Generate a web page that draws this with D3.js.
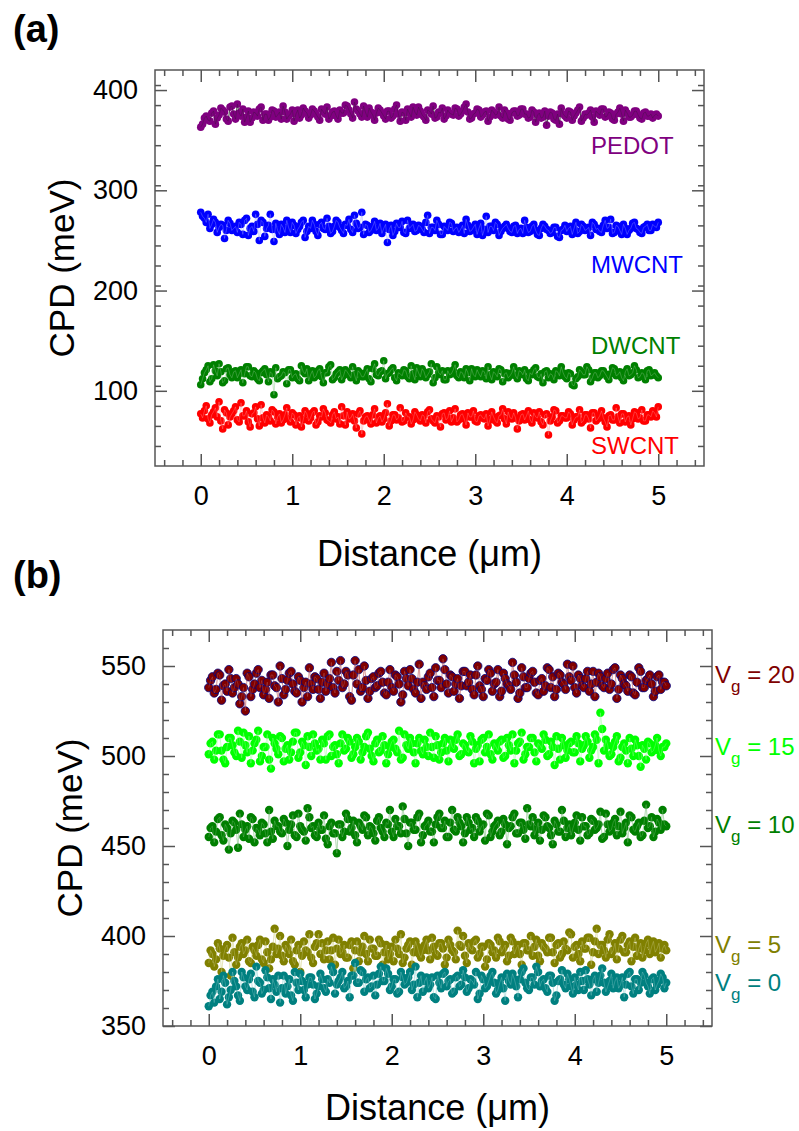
<!DOCTYPE html>
<html>
<head>
<meta charset="utf-8">
<script src="https://cdn.jsdelivr.net/npm/d3@7"></script>
<style>
  html, body { margin: 0; padding: 0; background: #fff; }
  svg { display: block; }
  text { font-family: "Liberation Sans", Arial, sans-serif; }
</style>
</head>
<body>
<svg id="chart" width="799" height="1131"></svg>
<script>
// ---------------- DATA ----------------
// Each series is sampled from 0 to 5 µm. "Even" samples and the "odd"
// samples between them are listed separately and interleaved below.
const distanceStart = 0, distanceEnd = 5;

// Panel (a)
const seriesA = ["PEDOT", "MWCNT", "DWCNT", "SWCNT"];
const colorsA = ["#800080", "#0000FF", "#008000", "#FF0000"];

const pedotEven = [363,372,370,377,366,375,380,371,383,376,
386,374,368,379,372,377,381,370,376,373,
379,375,371,378,374,380,376,372,382,377,
375,379,373,381,376,371,378,374,380,377,
384,376,388,379,373,378,382,375,377,380,
374,379,372,381,376,378,370,377,383,375,
379,373,380,376,372,378,382,374,377,375,
381,376,383,378,372,377,380,375,379,373,
378,376,374,380,371,377,379,375,381,376,
373,378,375,372,379,374,377,370,366,376,
372,378,374,380,369,376,377,373,379,375,
381,374,377,370,378,376,380,373,375,379,
372,377,374,376,375,374];
const pedotOdd = [366,374,369,379,372,382,378,369,384,371,
377,381,373,368,378,374,383,376,370,380,
373,378,384,371,376,369,380,375,379,372,
381,376,370,378,383,374,379,371,377,385,
380,372,381,376,384,373,378,370,382,377,
371,379,374,385,369,377,381,373,378,383,
375,370,379,384,373,377,371,380,376,382,
374,379,386,371,376,381,373,378,369,380,
375,383,372,377,370,379,374,381,376,372,
380,368,377,373,365,378,371,376,382,374,
379,370,377,383,372,375,380,368,377,381,
373,378,371,376,382,369,377,373,379,375,
371,378,374,372,376];

const mwcntEven = [278,272,276,266,268,263,265,260,267,262,
258,266,270,255,264,276,250,268,262,276,
249,260,266,258,263,268,257,264,270,259,
262,266,255,268,261,264,259,270,263,257,
265,261,275,262,278,266,258,264,260,267,
262,248,265,259,263,269,257,262,266,260,
264,258,275,263,260,266,256,262,268,259,
263,261,257,265,260,266,262,255,274,264,
260,266,259,264,262,258,265,261,257,263,
259,266,256,262,264,260,258,263,253,261,
259,264,262,257,266,260,263,268,261,259,
265,262,271,258,264,256,262,260,267,262,
258,263,266,260,264,268];
const mwcntOdd = [274,268,262,271,258,266,252,270,260,264,
268,256,272,262,259,266,270,254,265,261,
267,256,263,270,258,265,261,268,253,264,
270,259,266,262,272,257,264,268,260,266,
271,258,267,263,256,265,260,269,262,257,
266,261,255,267,263,258,270,264,259,265,
261,268,257,263,270,256,264,260,267,262,
258,265,271,259,263,256,267,261,258,264,
268,255,262,266,259,264,257,262,270,258,
264,260,255,266,261,257,263,254,260,265,
262,256,268,259,264,261,255,266,262,258,
270,263,257,265,260,266,256,262,268,261,
257,264,260,266,263];

const dwcntEven = [106,118,125,112,120,127,108,122,116,119,
113,121,117,124,114,118,110,120,116,119,
96,112,115,118,121,113,117,110,119,122,
116,113,120,114,118,124,111,117,121,115,
119,113,116,120,114,118,112,122,116,119,
130,117,121,113,118,115,120,112,117,123,
114,119,116,127,113,118,120,111,116,121,
115,119,113,118,122,114,117,120,112,116,
119,114,121,117,113,118,115,120,116,112,
118,121,114,117,119,113,116,120,115,118,
112,117,105,114,119,116,121,113,118,115,
120,114,117,122,116,113,119,115,118,121,
114,117,120,115,118,113];
const dwcntOdd = [112,121,109,126,115,119,110,123,113,120,
117,108,124,115,120,112,118,122,109,117,
123,114,119,107,121,116,112,125,117,110,
120,115,122,108,118,126,113,119,111,121,
116,124,110,118,114,122,109,127,115,120,
112,118,123,110,117,121,114,125,111,118,
122,113,119,108,124,116,111,120,117,126,
113,118,122,110,116,121,114,119,124,111,
117,122,109,118,115,124,112,119,121,110,
116,123,113,108,120,117,111,119,124,114,
118,106,112,121,116,124,109,118,113,120,
117,111,123,115,119,110,122,116,125,113,
118,111,121,116,115];

const swcntEven = [77,80,72,76,83,89,62,78,74,80,
71,88,75,69,77,84,65,73,76,70,
79,74,68,76,72,78,66,75,71,77,
73,80,69,74,78,70,76,72,67,75,
79,73,70,77,57,74,71,76,68,75,
72,87,70,76,73,69,78,74,71,76,
70,75,79,72,68,74,77,71,80,73,
69,76,72,78,74,70,75,73,77,71,
74,68,76,72,79,72,73,70,77,75,
71,78,73,69,76,56,74,80,70,75,
73,77,71,74,68,76,72,78,70,75,
73,64,76,71,74,77,69,75,72,78,
73,70,76,74,78,84];
const swcntOdd = [73,85,68,79,74,70,81,66,77,84,
69,75,80,64,78,72,86,68,74,81,
67,77,71,83,69,76,73,64,80,70,
78,66,75,82,71,68,79,74,84,66,
72,77,63,80,70,75,67,82,73,69,
78,65,76,71,83,70,74,67,79,72,
76,68,81,70,75,64,78,73,69,82,
71,77,66,74,80,69,76,72,65,79,
70,75,82,67,73,78,62,76,71,80,
68,74,79,66,77,70,81,68,75,73,
79,66,74,81,70,76,63,78,72,80,
69,75,71,83,68,77,74,66,79,72,
81,70,76,80,74];

// Panel (b)
const seriesB = ["20", "15", "10", "5", "0"];
const colorsB = ["#800000", "#00FF00", "#007F00", "#808000", "#008080"];

const vg20Even = [538,544,537,545,539,536,543,538,540,533,
525,544,537,546,538,534,541,545,539,530,
543,537,546,540,535,542,538,533,540,544,
537,541,536,543,538,547,553,540,545,531,
553,548,538,542,536,544,539,547,535,541,
538,545,540,534,543,548,537,541,532,539,
544,538,549,542,554,540,545,536,543,539,
547,541,537,545,539,533,542,546,540,548,
536,543,539,552,541,535,544,538,546,541,
534,543,539,548,544,537,545,540,551,542,
538,545,539,543,536,547,541,544,538,546,
540,549,537,543,539,545,535,541,547,538,
543,540,536,545,541,539];
const vg20Odd = [542,535,546,531,540,548,535,543,529,538,
546,533,540,548,542,537,532,545,538,550,
534,542,547,536,544,530,541,549,537,543,
532,546,540,552,535,542,538,547,533,545,
540,536,550,532,543,538,546,541,534,548,
536,544,530,547,539,543,535,551,541,537,
546,533,542,538,548,535,544,540,532,547,
539,545,534,550,537,543,548,536,541,533,
546,540,537,545,532,549,538,543,547,535,
542,536,549,538,533,546,541,537,544,550,
535,543,538,547,540,533,546,539,543,537,
548,532,545,540,536,544,534,549,538,542,
545,533,544,537,541];

const vg15Even = [501,508,503,512,498,505,510,502,514,499,
506,511,503,509,497,505,512,493,507,501,
510,504,498,508,513,502,506,511,500,507,
504,509,498,512,505,501,507,503,510,499,
505,508,502,511,504,497,509,503,506,501,
508,504,514,499,506,510,502,507,503,509,
500,505,511,498,507,503,509,504,512,501,
506,502,508,504,497,510,505,501,507,503,
509,500,506,512,503,508,498,505,510,502,
507,504,509,501,505,511,498,506,503,508,
502,507,504,511,499,505,509,524,503,506,
501,508,497,505,503,510,500,506,494,504,
508,502,506,503,505,507];
const vg15Odd = [507,498,512,503,496,510,506,500,508,513,
502,496,507,514,500,505,498,510,504,511,
497,506,502,513,499,508,495,505,512,503,
498,507,511,500,506,496,512,504,508,501,
510,498,505,513,500,507,502,511,496,505,
509,502,498,512,504,507,496,510,501,505,
513,499,506,502,510,497,505,509,500,507,
503,511,496,506,509,502,512,498,505,508,
499,510,503,496,507,513,501,505,510,497,
506,512,500,508,495,504,510,499,507,502,
511,497,506,508,503,512,496,515,509,500,
505,511,499,507,496,504,509,500,506,498,
507,503,510,500,505];

const vg10Even = [455,461,458,466,453,460,457,463,449,462,
459,454,465,460,456,462,452,458,464,461,
457,463,459,467,455,461,458,471,460,456,
463,459,454,461,457,446,462,458,465,460,
456,463,459,466,461,457,464,460,455,462,
458,465,461,472,457,463,459,466,452,461,
464,458,462,468,460,455,463,459,466,461,
457,463,460,466,458,462,468,455,461,464,
458,462,460,466,457,463,459,471,461,456,
463,459,466,460,451,462,458,464,460,456,
463,459,466,461,457,464,460,469,455,462,
459,465,461,457,463,467,459,461,455,464,
460,466,458,463,470,461];
const vg10Odd = [460,452,465,456,462,448,464,459,468,455,
461,466,452,459,463,457,470,454,461,458,
465,450,462,456,468,459,453,466,461,455,
459,467,451,463,457,462,455,468,458,464,
452,461,467,456,460,453,466,458,463,470,
455,461,457,465,450,463,459,468,456,462,
458,452,466,460,464,455,470,458,463,452,
466,459,455,464,461,453,467,458,462,456,
465,451,461,468,457,463,454,462,466,459,
453,467,461,456,464,458,470,455,462,460,
467,453,461,456,465,459,462,454,468,458,
463,456,469,460,452,466,458,463,456,473,
461,455,465,459,462];

const vg5Even = [385,390,387,393,389,395,378,391,388,396,
392,386,394,389,398,385,391,387,404,393,
389,395,390,386,392,380,397,391,388,394,
401,396,392,387,399,393,390,395,388,397,
392,386,394,390,398,393,389,396,391,387,
394,398,390,385,393,397,391,394,388,395,
392,399,390,396,393,388,395,391,403,394,
389,396,392,398,390,394,387,395,392,399,
391,395,389,397,393,390,396,392,400,394,
389,396,393,399,391,395,388,397,392,401,
394,390,397,393,399,391,404,395,392,398,
390,396,393,400,391,397,394,389,396,392,
398,394,391,396,393,392];
const vg5Odd = [392,383,396,380,393,388,399,384,394,390,
398,385,392,395,387,397,382,394,390,400,
386,393,398,384,395,389,392,401,385,396,
390,387,397,392,384,398,391,388,395,382,
397,391,400,386,393,389,398,384,395,390,
386,393,401,388,395,384,397,390,392,398,
387,394,389,396,384,398,392,387,395,400,
385,393,397,388,394,383,396,391,388,397,
393,386,399,390,395,384,396,392,389,398,
386,394,391,399,385,396,390,393,402,388,
395,386,393,399,384,397,390,395,388,401,
392,387,398,391,395,386,399,393,388,396,
390,397,393,388,395];

const vg0Even = [361,369,372,365,378,362,370,375,367,380,
372,376,369,383,374,370,377,365,373,378,
371,368,376,364,374,379,370,373,377,365,
372,376,369,374,380,373,377,371,375,378,
385,374,380,376,371,378,373,383,375,379,
372,376,369,377,374,380,373,366,378,375,
371,377,365,374,379,372,376,369,378,373,
377,371,375,380,368,376,372,378,374,370,
377,364,375,379,372,376,382,371,377,373,
380,375,371,378,374,367,376,373,379,372,
377,370,375,381,373,376,369,378,374,372,
379,375,371,377,373,380,368,376,374,378,
372,376,370,375,377,374];
const vg0Odd = [367,363,376,369,374,366,380,372,364,377,
370,379,366,375,368,381,371,376,369,363,
378,372,367,380,370,375,366,377,373,368,
379,371,376,383,368,375,380,372,366,378,
374,381,369,377,372,367,379,375,382,370,
376,368,380,373,377,370,383,374,369,377,
373,366,378,371,380,375,368,377,372,381,
369,376,373,365,378,371,375,380,368,374,
371,379,373,376,366,380,374,370,377,383,
372,376,369,378,364,375,381,371,376,368,
373,380,370,376,367,378,374,382,369,375,
371,377,373,366,379,372,376,370,380,374,
368,377,373,379,371];

// Tick values
const xMajorTicks = [0, 1, 2, 3, 4, 5];
const yMajorTicksA = [100, 200, 300, 400];
const yMajorTicksB = [350, 400, 450, 500, 550];

// ---------------- HELPERS ----------------
function interleave(even, odd) {
  const out = [];
  even.forEach((v, i) => { out.push(v); if (i < odd.length) out.push(odd[i]); });
  return out;
}

// ---------------- DRAWING ----------------
const svg = d3.select("#chart");
const FONT = "'Liberation Sans', Arial, sans-serif";

function drawPanel(cfg) {
  const x = d3.scaleLinear().domain([-0.5, 5.5]).range([cfg.left, cfg.right]);
  const y = d3.scaleLinear().domain(cfg.yDomain).range([cfg.bottom, cfg.top]);
  const g = svg.append("g");

  const xMinor = d3.range(-0.4, 5.45, 0.2).map(v => +v.toFixed(1)).filter(v => Math.abs(v - Math.round(v)) > 1e-6);
  const yMinor = d3.range(cfg.yDomain[0], cfg.yDomain[1] + 0.01, cfg.yMinorStep)
    .filter(v => cfg.yMajor.indexOf(v) < 0 && v > cfg.yDomain[0] && v < cfg.yDomain[1]);

  const axisColor = "#555";
  function styleAxis(sel) {
    sel.select(".domain").remove();
    sel.selectAll(".tick line").attr("stroke", axisColor).attr("stroke-width", 1.5);
    sel.selectAll(".tick text").attr("fill", "#000").attr("font-size", 27).attr("font-family", FONT);
  }

  g.append("g").attr("transform", `translate(0,${cfg.bottom})`)
    .call(d3.axisBottom(x).tickValues(xMajorTicks).tickSizeInner(-12).tickSizeOuter(0).tickPadding(20).tickFormat(d3.format("d")))
    .call(styleAxis);
  g.append("g").attr("transform", `translate(0,${cfg.bottom})`)
    .call(d3.axisBottom(x).tickValues(xMinor).tickSizeInner(-6).tickSizeOuter(0).tickFormat(""))
    .call(styleAxis);
  g.append("g").attr("transform", `translate(0,${cfg.top})`)
    .call(d3.axisTop(x).tickValues(xMajorTicks).tickSizeInner(-12).tickSizeOuter(0).tickFormat(""))
    .call(styleAxis);
  g.append("g").attr("transform", `translate(0,${cfg.top})`)
    .call(d3.axisTop(x).tickValues(xMinor).tickSizeInner(-6).tickSizeOuter(0).tickFormat(""))
    .call(styleAxis);
  g.append("g").attr("transform", `translate(${cfg.left},0)`)
    .call(d3.axisLeft(y).tickValues(cfg.yMajor).tickSizeInner(-12).tickSizeOuter(0).tickPadding(17).tickFormat(d3.format("d")))
    .call(styleAxis);
  g.append("g").attr("transform", `translate(${cfg.left},0)`)
    .call(d3.axisLeft(y).tickValues(yMinor).tickSizeInner(-6).tickSizeOuter(0).tickFormat(""))
    .call(styleAxis);
  g.append("g").attr("transform", `translate(${cfg.right},0)`)
    .call(d3.axisRight(y).tickValues(cfg.yMajor).tickSizeInner(-12).tickSizeOuter(0).tickFormat(""))
    .call(styleAxis);
  g.append("g").attr("transform", `translate(${cfg.right},0)`)
    .call(d3.axisRight(y).tickValues(yMinor).tickSizeInner(-6).tickSizeOuter(0).tickFormat(""))
    .call(styleAxis);

  g.append("rect")
    .attr("x", cfg.left).attr("y", cfg.top)
    .attr("width", cfg.right - cfg.left).attr("height", cfg.bottom - cfg.top)
    .attr("fill", "none").attr("stroke", axisColor).attr("stroke-width", 1.5);

  cfg.series.forEach(s => {
    const n = s.values.length;
    const dx = (distanceEnd - distanceStart) / (n - 1);
    const px = i => x(distanceStart + i * dx);
    const line = d3.line().x((d, i) => px(i)).y(d => y(d));
    const sg = g.append("g");
    sg.append("path").datum(s.values)
      .attr("d", line).attr("fill", "none")
      .attr("stroke", s.lineColor).attr("stroke-width", 0.7);
    sg.selectAll("circle").data(s.values).join("circle")
      .attr("cx", (d, i) => px(i))
      .attr("cy", d => y(d))
      .attr("r", cfg.r)
      .attr("fill", s.color)
      .attr("stroke", s.edge || "none")
      .attr("stroke-width", s.edge ? 0.8 : 0);
    // re-draw the connecting line faintly on top so the zig-zags show through
    sg.append("path").datum(s.values)
      .attr("d", line).attr("fill", "none")
      .attr("stroke", s.lineColor).attr("stroke-width", 0.5).attr("opacity", 0.55);
  });

  g.append("text")
    .attr("x", (cfg.left + cfg.right) / 2).attr("y", cfg.xTitleY)
    .attr("text-anchor", "middle").attr("font-size", 36).attr("fill", "#000")
    .text("Distance (\u03bcm)");
  g.append("text")
    .attr("transform", `translate(${cfg.yTitleX},${(cfg.top + cfg.bottom) / 2}) rotate(-90)`)
    .attr("text-anchor", "middle").attr("font-size", 35).attr("fill", "#000")
    .text("CPD (meV)");

  svg.append("text")
    .attr("x", 13).attr("y", cfg.letterY)
    .attr("font-family", "'Open Sans', 'DejaVu Sans', sans-serif")
    .attr("font-weight", "bold").attr("font-size", 38).attr("fill", "#000")
    .text(cfg.letter);

  return { x, y, g };
}

// Panel (a)
const pa = drawPanel({
  left: 155, right: 704, top: 70, bottom: 466,
  yDomain: [25, 420], yMajor: yMajorTicksA, yMinorStep: 20,
  r: 3.8, xTitleY: 566, yTitleX: 74, letter: "(a)", letterY: 42,
  series: [
    { values: interleave(pedotEven, pedotOdd), color: colorsA[0], lineColor: "#222" },
    { values: interleave(mwcntEven, mwcntOdd), color: colorsA[1], lineColor: "#c8ccff" },
    { values: interleave(dwcntEven, dwcntOdd), color: colorsA[2], lineColor: "#b8e0b8" },
    { values: interleave(swcntEven, swcntOdd), color: colorsA[3], lineColor: "#ffc0c0" }
  ]
});
const labelYA = [154, 273, 354, 454];
seriesA.forEach((name, i) => {
  pa.g.append("text").attr("x", 591).attr("y", labelYA[i])
    .attr("font-size", 24).attr("fill", colorsA[i]).text(name);
});

// Panel (b)
const pb = drawPanel({
  left: 163, right: 712, top: 630, bottom: 1026,
  yDomain: [350, 570], yMajor: yMajorTicksB, yMinorStep: 10,
  r: 4.2, xTitleY: 1120, yTitleX: 82, letter: "(b)", letterY: 588,
  series: [
    { values: interleave(vg20Even, vg20Odd), color: colorsB[0], lineColor: "#d08080", edge: "#000080" },
    { values: interleave(vg15Even, vg15Odd), color: colorsB[1], lineColor: "#c0ffc0" },
    { values: interleave(vg10Even, vg10Odd), color: colorsB[2], lineColor: "#a0d0a0" },
    { values: interleave(vg5Even, vg5Odd), color: colorsB[3], lineColor: "#e0e0a8" },
    { values: interleave(vg0Even, vg0Odd), color: colorsB[4], lineColor: "#b0e0e0" }
  ]
});
const labelYB = [683, 755, 833, 953, 991];
seriesB.forEach((v, i) => {
  const t = pb.g.append("text").attr("x", 715).attr("y", labelYB[i])
    .attr("font-size", 24).attr("fill", colorsB[i]);
  t.append("tspan").text("V");
  t.append("tspan").attr("font-size", 17).attr("dy", 9).text("g");
  t.append("tspan").attr("dy", -9).text(" = " + v);
});
</script>
</body>
</html>
